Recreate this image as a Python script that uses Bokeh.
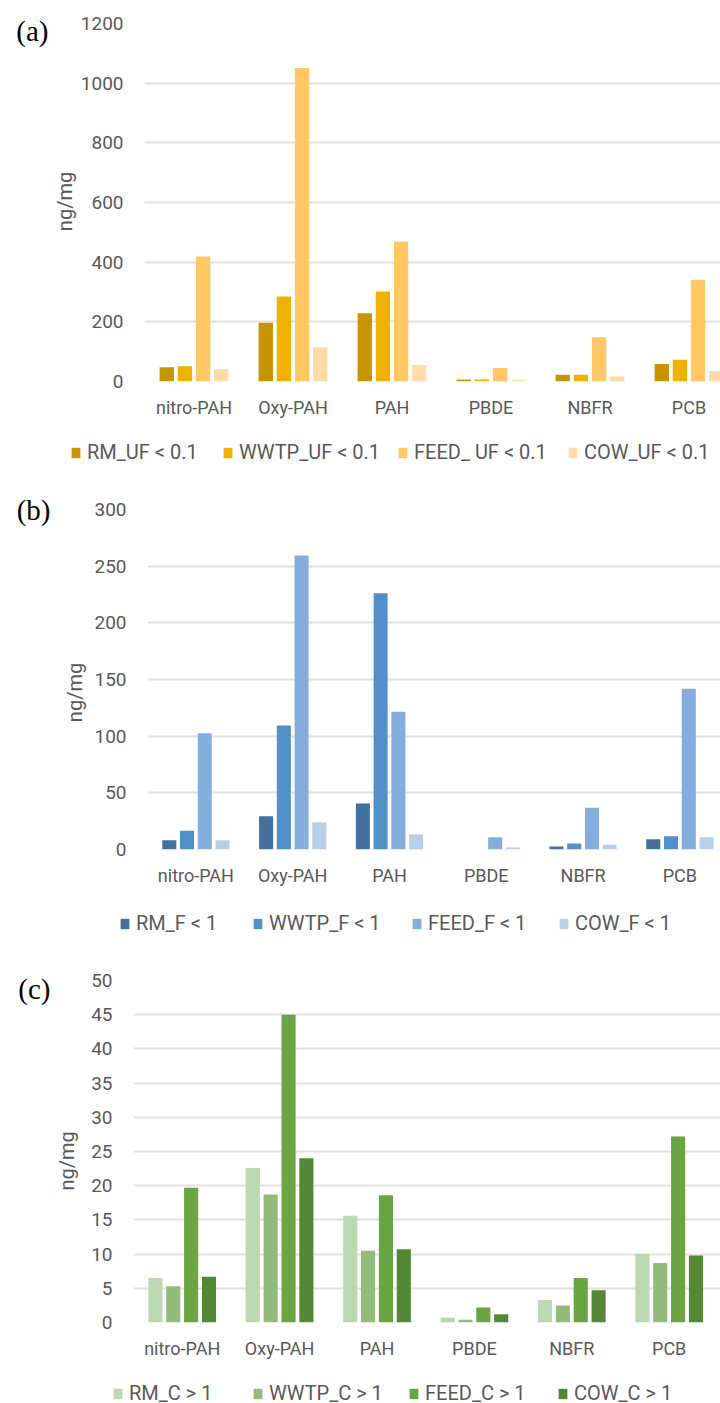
import math
from bokeh.plotting import figure
from bokeh.models import (FixedTicker, SingleIntervalTicker, Legend, LegendItem,
                          Range1d, ColumnDataSource, LinearAxis)
from bokeh.core.properties import value
from bokeh.layouts import column, row
from bokeh.embed import file_html
from bokeh.resources import INLINE

categories = ["nitro-PAH", "Oxy-PAH", "PAH", "PBDE", "NBFR", "PCB"]

a_series = ["RM_UF < 0.1", "WWTP_UF < 0.1", "FEED_ UF < 0.1", "COW_UF < 0.1"]
a_rm = [48, 197, 229, 7, 23, 59]
a_wwtp = [51, 285, 302, 7, 23, 73]
a_feed = [419, 1051, 469, 45, 148, 341]
a_cow = [41, 115, 55, 6, 17, 35]

b_series = ["RM_F < 1", "WWTP_F < 1", "FEED_F < 1", "COW_F < 1"]
b_rm = [8.2, 29.4, 40.6, 0.0, 2.6, 9.1]
b_wwtp = [16.5, 109.4, 226.2, 0.0, 5.3, 11.8]
b_feed = [102.6, 259.4, 121.5, 10.9, 36.8, 141.8]
b_cow = [8.2, 24.1, 13.5, 1.8, 4.1, 10.9]

c_series = ["RM_C > 1", "WWTP_C > 1", "FEED_C > 1", "COW_C > 1"]
c_rm = [6.5, 22.6, 15.6, 0.7, 3.3, 10.0]
c_wwtp = [5.3, 18.7, 10.5, 0.4, 2.5, 8.7]
c_feed = [19.7, 45.0, 18.6, 2.2, 6.5, 27.2]
c_cow = [6.7, 24.0, 10.7, 1.2, 4.7, 9.8]

a_colors = ["#C69500", "#EFB200", "#FFC864", "#FFDCA8"]
b_colors = ["#41719C", "#5190C8", "#86AEDC", "#B8CFEA"]
c_colors = ["#BDD7B0", "#93BC7A", "#6BA443", "#558835"]

TEXT = "#595959"
FONT = "Roboto"
OFFSETS = [-0.275, -0.0917, 0.0917, 0.275]
BAR_W = 0.145
PAGE_W = 720


def panel(tag, series, values, colors, y_max, y_step, left, axis_w, cat_w, fig_top,
          top, frame_h, height, tag_right, tag_y, ylab_pos, leg_h, leg_x, leg_y):
    frame_w = PAGE_W - left
    tag_w = left - axis_w
    p = figure(frame_width=frame_w, frame_height=frame_h, output_backend="svg",
               toolbar_location=None,
               x_range=Range1d(0, frame_w / cat_w), y_range=Range1d(0, y_max),
               min_border_left=axis_w, min_border_right=0,
               min_border_top=top, min_border_bottom=height - top - frame_h)
    p.outline_line_color = None
    sources = []
    for k, vals in enumerate(values):
        xs = [i + 0.5 + OFFSETS[k] for i in range(len(categories))]
        sources.append(ColumnDataSource(dict(x=xs, top=vals)))
    for src, col in zip(sources, colors):
        p.vbar(x="x", top="top", width=BAR_W, bottom=0, source=src,
               fill_color=col, line_color=None)
    p.xgrid.grid_line_color = None
    p.ygrid.grid_line_color = "#E2E2E2"
    p.ygrid.grid_line_width = 2
    p.yaxis.ticker = SingleIntervalTicker(interval=y_step)
    p.yaxis.axis_line_color = None
    p.yaxis.major_tick_line_color = None
    p.yaxis.minor_tick_line_color = None
    p.yaxis.major_tick_out = 0
    p.yaxis.major_label_standoff = 17
    p.yaxis.major_label_text_font = FONT
    p.yaxis.major_label_text_font_size = "19px"
    p.yaxis.major_label_text_color = TEXT

    ticks = [i + 0.5 for i in range(len(categories))]
    p.xaxis.ticker = FixedTicker(ticks=ticks)
    p.xaxis.major_label_overrides = {t: c for t, c in zip(ticks, categories)}
    p.xaxis.axis_line_color = None
    p.xaxis.major_tick_line_color = None
    p.xaxis.minor_tick_line_color = None
    p.xaxis.major_tick_out = 0
    p.xaxis.major_label_standoff = 15
    p.xaxis.major_label_text_font = FONT
    p.xaxis.major_label_text_font_size = "18px"
    p.xaxis.major_label_text_color = TEXT

    # strip left of the value axis; its frame lines up with the chart frame,
    # so its ranges are given in page pixels (y inverted)
    frame_top = fig_top + top
    t = figure(width=tag_w, height=height, output_backend="svg",
               toolbar_location=None, x_axis_type=None, y_axis_type=None,
               title_location=None,
               x_range=Range1d(tag_right, tag_w),
               y_range=Range1d(frame_top + frame_h, frame_top),
               min_border_left=tag_right, min_border_right=0,
               min_border_top=top, min_border_bottom=height - top - frame_h)
    t.outline_line_color = None
    t.xgrid.grid_line_color = None
    t.ygrid.grid_line_color = None
    tag_axis = LinearAxis(ticker=FixedTicker(ticks=[tag_y]),
                          major_label_overrides={tag_y: tag},
                          axis_line_color=None, major_tick_line_color=None,
                          minor_tick_line_color=None, major_tick_out=0,
                          major_tick_in=0, major_label_standoff=0,
                          major_label_text_font="Liberation Serif",
                          major_label_text_font_size="29px",
                          major_label_text_color="black")
    t.add_layout(tag_axis, "left")
    t.text(x=[ylab_pos[0]], y=[ylab_pos[1]], text=["ng/mg"],
           angle=math.pi / 2, text_font=value(FONT), text_font_size="20px",
           text_color=TEXT, text_baseline="middle", text_align="center")

    # legend strip: same series drawn out of view, one legend per series
    lg = figure(width=PAGE_W, height=leg_h, output_backend="svg",
                toolbar_location=None, x_axis_type=None, y_axis_type=None,
                title_location=None, x_range=Range1d(-20, -19),
                y_range=Range1d(0, 1), min_border=0)
    lg.outline_line_color = None
    lg.xgrid.grid_line_color = None
    lg.ygrid.grid_line_color = None
    for name, src, col, lx in zip(series, sources, colors, leg_x):
        r = lg.vbar(x="x", top="top", width=BAR_W, bottom=0, source=src,
                    fill_color=col, line_color=None)
        leg = Legend(items=[LegendItem(label=name, renderers=[r])],
                     location=(lx, leg_y),
                     border_line_color=None, background_fill_alpha=0, padding=0,
                     margin=0, glyph_width=11, glyph_height=13,
                     label_standoff=6, label_text_font=FONT,
                     label_text_font_size="20px", label_text_color=TEXT)
        lg.add_layout(leg)
    return column(row(t, p, spacing=0), lg, spacing=0)


pa = panel("(a)", a_series, [a_rm, a_wwtp, a_feed, a_cow], a_colors, 1200, 200,
           left=139, axis_w=62, cat_w=99.0, fig_top=0, top=23, frame_h=358,
           height=425, tag_right=48, tag_y=30, ylab_pos=(64, 201),
           leg_h=55, leg_x=[70, 222, 397, 567], leg_y=16)
pb = panel("(b)", b_series, [b_rm, b_wwtp, b_feed, b_cow], b_colors, 300, 50,
           left=147, axis_w=60, cat_w=96.8, fig_top=480, top=29, frame_h=340,
           height=415, tag_right=50, tag_y=509, ylab_pos=(74, 692),
           leg_h=55, leg_x=[119, 252, 411, 558], leg_y=15)
pc = panel("(c)", c_series, [c_rm, c_wwtp, c_feed, c_cow], c_colors, 50, 5,
           left=133, axis_w=55, cat_w=97.4, fig_top=950, top=30, frame_h=342,
           height=408, tag_right=50, tag_y=989, ylab_pos=(66, 1162),
           leg_h=44, leg_x=[112, 252, 408, 557], leg_y=0)

layout = column(pa, pb, pc, spacing=0)
open("out.html", "w").write(file_html(layout, INLINE))
